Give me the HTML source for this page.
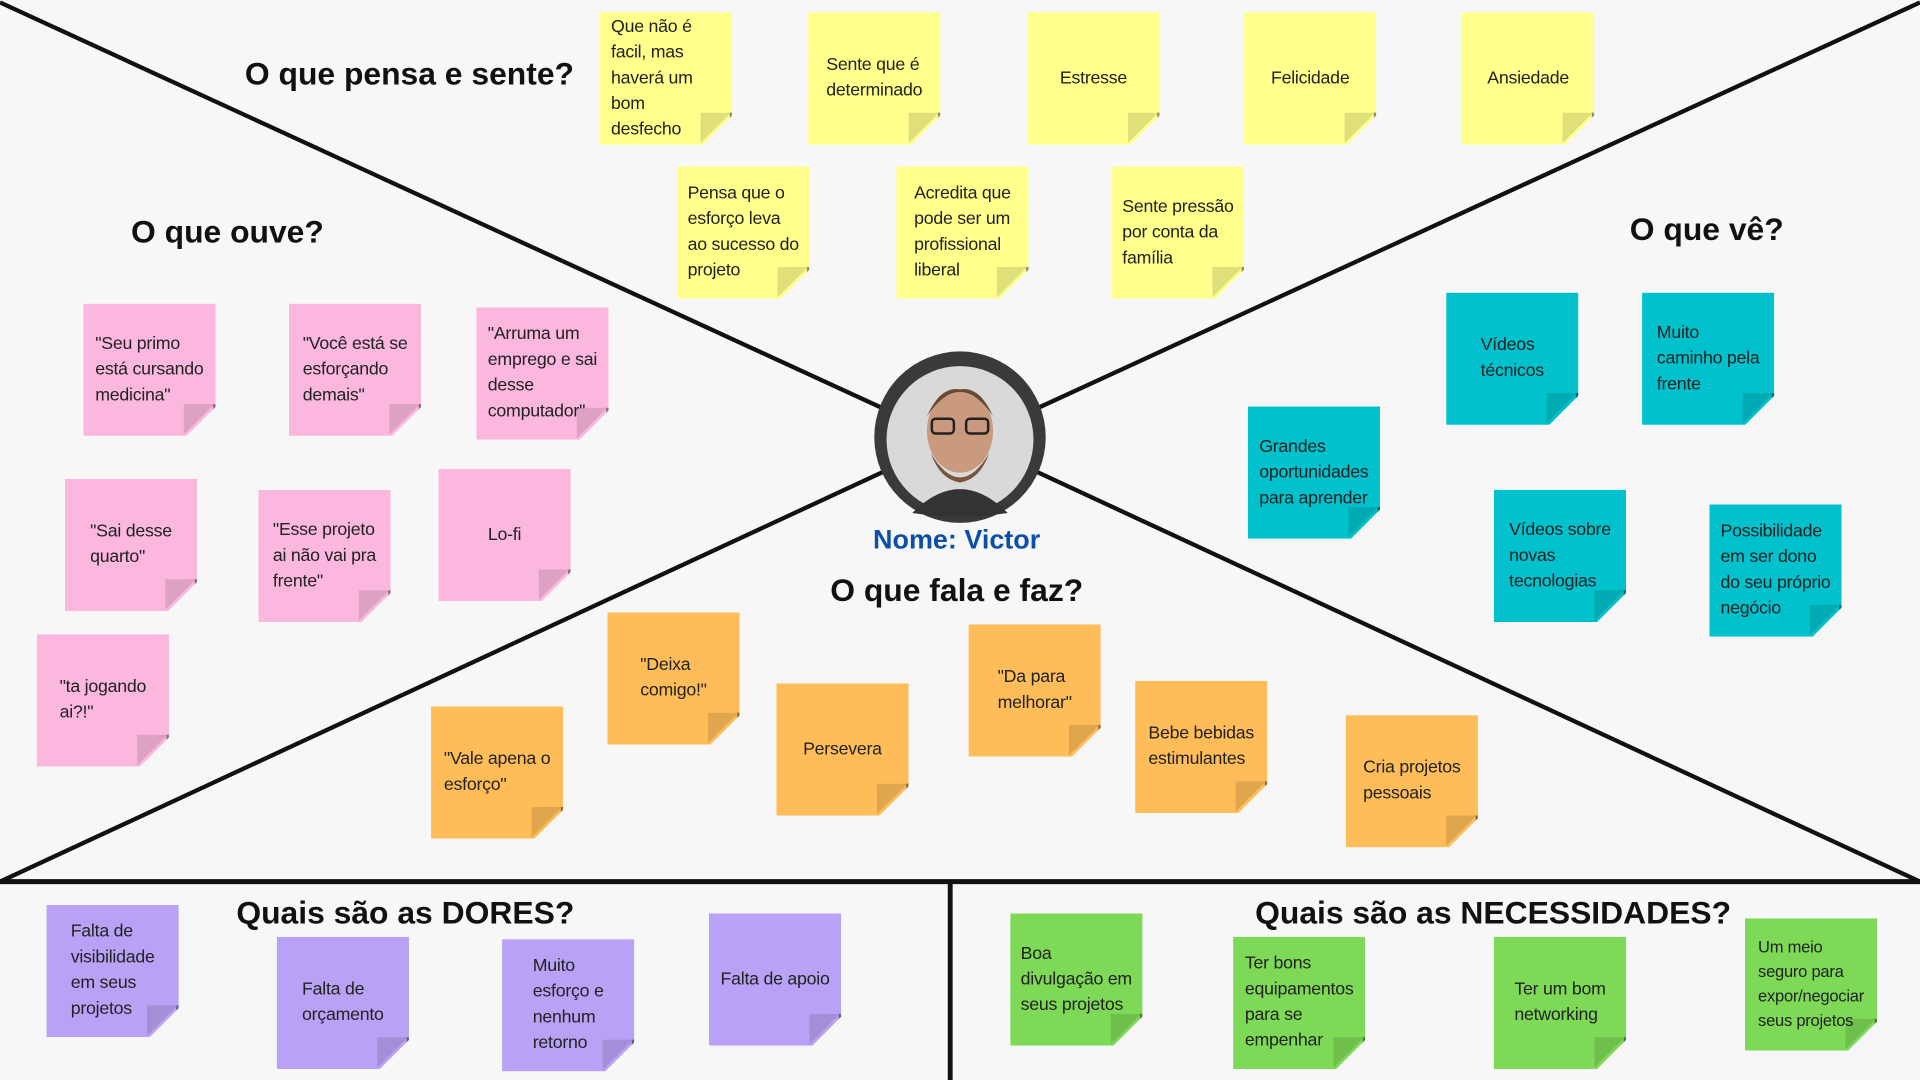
<!DOCTYPE html>
<html><head><meta charset="utf-8"><style>
html,body{margin:0;padding:0;width:1920px;height:1080px;overflow:hidden;background:#f7f7f7}
#s{position:absolute;left:0;top:0;width:1568px;height:882px;transform:scale(1.22449);transform-origin:0 0;font-family:"Liberation Sans",sans-serif}
.n{position:absolute;width:108px;height:108px;box-sizing:border-box;padding:2px 3px;display:flex;align-items:center;justify-content:center;font-size:14.5px;line-height:21px;letter-spacing:-0.2px;color:#222;white-space:nowrap;clip-path:polygon(0 0,100% 0,100% 78%,78% 100%,0 100%)}
.n span{display:block}
.n::after{content:"";position:absolute;right:0;bottom:0;width:26px;height:26px;background:linear-gradient(135deg,rgba(0,0,0,.12) 0,rgba(0,0,0,.12) 50%,transparent 50%);border-right:2px solid rgba(0,0,0,.35);box-sizing:border-box}
.y{background:#ffff8c}.p{background:#fbb7de}.c{background:#00c1cc}.o{background:#ffbd59}.v{background:#b9a2f6}.g{background:#7ed957}
h2{position:absolute;margin:0;font-size:26px;font-weight:bold;color:#111;white-space:nowrap}
</style></head><body><div id="s">
<svg width="1568" height="882" style="position:absolute;left:0;top:0">
<g stroke="#111" stroke-width="3.5" fill="none">
<line x1="0" y1="2" x2="720" y2="333"/><line x1="1568" y1="2" x2="848" y2="333"/>
<line x1="0" y1="720" x2="722" y2="385"/><line x1="1568" y1="720" x2="846" y2="385"/>
<line x1="0" y1="720" x2="1568" y2="720" stroke-width="4"/><line x1="776" y1="720" x2="776" y2="882" stroke-width="4"/>
</g>
<circle cx="784" cy="357" r="70" fill="#3a3a3a"/>
<circle cx="784" cy="359" r="60" fill="#d9d9d9"/>
<ellipse cx="784" cy="352" rx="27" ry="34" fill="#c99a7d"/>
<path d="M757 340 Q784 300 811 340 Q800 315 784 318 Q768 315 757 340Z" fill="#6b4a35"/>
<path d="M760 370 Q784 410 808 370 Q800 392 784 394 Q768 392 760 370Z" fill="#7a5540"/>
<path d="M745 419 Q784 380 823 419 Q784 425 745 419Z" fill="#333"/>
<rect x="761" y="342" width="18" height="12" rx="3" fill="none" stroke="#222" stroke-width="2"/><rect x="789" y="342" width="18" height="12" rx="3" fill="none" stroke="#222" stroke-width="2"/>
</svg>
<h2 style="left:200px;top:45px">O que pensa e sente?</h2>
<h2 style="left:107px;top:174px">O que ouve?</h2>
<h2 style="left:1331px;top:172px">O que vê?</h2>
<h2 style="left:678px;top:467px">O que fala e faz?</h2>
<h2 style="left:193px;top:730px">Quais são as DORES?</h2>
<h2 style="left:1025px;top:730px">Quais são as NECESSIDADES?</h2>
<div style="position:absolute;left:713px;top:428px;font-size:22px;font-weight:bold;color:#0b4fa8">Nome: Victor</div>

<div class="n y" style="left:490px;top:10px;justify-content:flex-start;padding-left:9px"><span>Que não é<br>facil, mas<br>haverá um<br>bom<br>desfecho</span></div>
<div class="n y" style="left:660px;top:10px"><span>Sente que é<br>determinado</span></div>
<div class="n y" style="left:839px;top:10px"><span>Estresse</span></div>
<div class="n y" style="left:1016px;top:10px"><span>Felicidade</span></div>
<div class="n y" style="left:1194px;top:10px"><span>Ansiedade</span></div>
<div class="n y" style="left:553px;top:136px"><span>Pensa que o<br>esforço leva<br>ao sucesso do<br>projeto</span></div>
<div class="n y" style="left:732px;top:136px"><span>Acredita que<br>pode ser um<br>profissional<br>liberal</span></div>
<div class="n y" style="left:908px;top:136px"><span>Sente pressão<br>por conta da<br>família</span></div>

<div class="n p" style="left:68px;top:248px"><span>"Seu primo<br>está cursando<br>medicina"</span></div>
<div class="n p" style="left:236px;top:248px"><span>"Você está se<br>esforçando<br>demais"</span></div>
<div class="n p" style="left:389px;top:251px"><span>"Arruma um<br>emprego e sai<br>desse<br>computador"</span></div>
<div class="n p" style="left:53px;top:391px"><span>"Sai desse<br>quarto"</span></div>
<div class="n p" style="left:211px;top:400px"><span>"Esse projeto<br>ai não vai pra<br>frente"</span></div>
<div class="n p" style="left:358px;top:383px"><span>Lo-fi</span></div>
<div class="n p" style="left:30px;top:518px"><span>"ta jogando<br>ai?!"</span></div>

<div class="n c" style="left:1181px;top:239px"><span>Vídeos<br>técnicos</span></div>
<div class="n c" style="left:1341px;top:239px"><span>Muito<br>caminho pela<br>frente</span></div>
<div class="n c" style="left:1019px;top:332px"><span>Grandes<br>oportunidades<br>para aprender</span></div>
<div class="n c" style="left:1220px;top:400px"><span>Vídeos sobre<br>novas<br>tecnologias</span></div>
<div class="n c" style="left:1396px;top:412px"><span>Possibilidade<br>em ser dono<br>do seu próprio<br>negócio</span></div>

<div class="n o" style="left:496px;top:500px"><span>"Deixa<br>comigo!"</span></div>
<div class="n o" style="left:634px;top:558px"><span>Persevera</span></div>
<div class="n o" style="left:791px;top:510px"><span>"Da para<br>melhorar"</span></div>
<div class="n o" style="left:927px;top:556px"><span>Bebe bebidas<br>estimulantes</span></div>
<div class="n o" style="left:1099px;top:584px"><span>Cria projetos<br>pessoais</span></div>
<div class="n o" style="left:352px;top:577px"><span>"Vale apena o<br>esforço"</span></div>

<div class="n v" style="left:38px;top:739px"><span>Falta de<br>visibilidade<br>em seus<br>projetos</span></div>
<div class="n v" style="left:226px;top:765px"><span>Falta de<br>orçamento</span></div>
<div class="n v" style="left:410px;top:767px"><span>Muito<br>esforço e<br>nenhum<br>retorno</span></div>
<div class="n v" style="left:579px;top:746px"><span>Falta de apoio</span></div>

<div class="n g" style="left:825px;top:746px"><span>Boa<br>divulgação em<br>seus projetos</span></div>
<div class="n g" style="left:1007px;top:765px"><span>Ter bons<br>equipamentos<br>para se<br>empenhar</span></div>
<div class="n g" style="left:1220px;top:765px"><span>Ter um bom<br>networking</span></div>
<div class="n g" style="left:1425px;top:750px;font-size:13.5px;line-height:20px"><span>Um meio<br>seguro para<br>expor/negociar<br>seus projetos</span></div>
</div></body></html>
